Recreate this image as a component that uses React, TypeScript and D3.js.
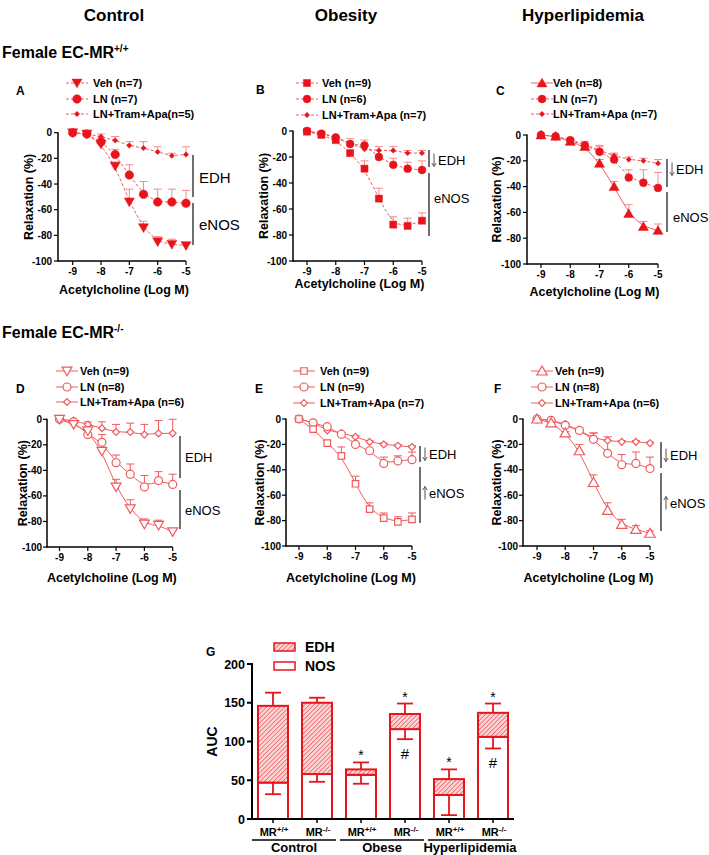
import React from 'react';
import * as d3 from 'd3';

// ---------- data ----------
const doses = [-9, -8.5, -8, -7.5, -7, -6.5, -6, -5.5, -5];
const xTicks = [-9, -8, -7, -6, -5];
const yTicks = [0, -20, -40, -60, -80, -100];

const vehA = [0, -1, -9, -26, -54, -74, -85, -87, -88];
const vehASem = [0, 0, 2, 3, 10, 5, 4, 4, 2];
const lnA = [0, -1, -7, -17, -33, -48, -54, -54, -55];
const lnASem = [0, 0, 3, 4, 8, 10, 10, 10, 10];
const lntA = [0, -1, -3, -6, -10, -12, -15, -18, -17];
const lntASem = [0, 0, 2, 3, 3, 5, 4, 2, 6];

const vehB = [-0.5, -3, -7, -17, -29, -52, -72, -73, -69];
const vehBSem = [0, 0, 0, 1, 6, 8, 6, 6, 6];
const lnB = [0, -2, -5, -10, -11, -20, -26, -29, -30];
const lnBSem = [0, 0, 0, 4, 4, 1, 5, 5, 7];
const lntB = [0, -2, -4, -10, -14, -15, -15, -17, -17];
const lntBSem = [0, 0, 0, 0, 3, 3, 3, 2, 2];

const vehC = [0, -1, -5, -9, -22, -40, -61, -71, -74];
const vehCSem = [0, 0, 1, 2, 3, 4, 7, 4, 5];
const lnC = [0, -1, -4, -8, -13, -19, -33, -37, -41];
const lnCSem = [0, 0, 1, 3, 4, 4, 6, 10, 12];
const lntC = [0, -1, -4, -7, -12, -16, -19, -20, -22];
const lntCSem = [0, 0, 1, 2, 4, 2, 2, 2, 3];

const vehD = [0, -4, -9, -25, -53, -70, -82, -83, -88];
const vehDSem = [0, 0, 1, 2, 6, 7, 4, 4, 2];
const lnD = [0, -2, -12, -18, -34, -43, -53, -48, -51];
const lnDSem = [0, 0, 1, 6, 6, 8, 9, 7, 8];
const lntD = [0, -1, -4, -7, -10, -10, -12, -11, -11];
const lntDSem = [0, 0, 2, 5, 6, 7, 8, 10, 11];

const vehE = [0, -8, -19, -29, -51, -71, -78, -81, -79];
const vehESem = [0, 0, 2, 7, 6, 5, 4, 4, 5];
const lnE = [0, -3, -6, -12, -20, -25, -35, -33, -32];
const lnESem = [0, 0, 0, 1, 1, 1, 5, 4, 6];
const lntE = [0, -3, -9, -11, -14, -18, -20, -21, -22];
const lntESem = [0, 0, 0, 0, 1, 1, 1, 1, 1];

const vehF = [0, -3, -11, -25, -50, -72, -83, -87, -90];
const vehFSem = [0, 0, 1, 5, 6, 6, 4, 3, 2];
const lnF = [0, -1, -5, -9, -16, -27, -36, -35, -39];
const lnFSem = [0, 0, 1, 1, 5, 10, 8, 9, 9];
const lntF = [0, -1, -4, -9, -15, -17, -18, -18, -19];
const lntFSem = [0, 0, 1, 2, 4, 3, 1, 1, 1];

const legendA = ['Veh (n=7)', 'LN (n=7)', 'LN+Tram+Apa(n=5)'];
const legendB = ['Veh (n=9)', 'LN (n=6)', 'LN+Tram+Apa (n=7)'];
const legendC = ['Veh (n=8)', 'LN (n=7)', 'LN+Tram+Apa (n=7)'];
const legendD = ['Veh (n=9)', 'LN (n=8)', 'LN+Tram+Apa (n=6)'];
const legendE = ['Veh (n=9)', 'LN (n=9)', 'LN+Tram+Apa (n=7)'];
const legendF = ['Veh (n=9)', 'LN (n=8)', 'LN+Tram+Apa (n=6)'];

const aucGroups = ['Control', 'Obese', 'Hyperlipidemia'];
const aucGenotypes = ['+/+', '-/-', '+/+', '-/-', '+/+', '-/-'];
const aucTotal = [146, 150, 64, 135.5, 51.5, 137];
const aucTotalSem = [17, 6.5, 9, 13.5, 12.5, 12];
const aucNOS = [47, 58, 57, 116, 31, 106];
const aucNOSSem = [15, 10, 11.5, 13, 26, 15];
const aucStar = [false, false, true, true, true, true];
const aucHash = [false, false, false, true, false, true];
const aucTicks = [0, 50, 100, 150, 200];

// ---------- styles ----------
const FONT = '"Liberation Sans", Arial, Helvetica, sans-serif';
const RED = '#e8141c';
const RED_LINE = '#f05a5e';
const RED_ERR = '#f28b8e';

type Series = { v: number[]; s: number[]; sym: string; filled: boolean; dashed: boolean; size: number };

function symPath(sym: string, size: number) {
  const map: any = {
    tri: d3.symbolTriangle,
    triDown: d3.symbolTriangle,
    circle: d3.symbolCircle,
    square: d3.symbolSquare,
    diamond: d3.symbolDiamond2,
  };
  return d3.symbol().type(map[sym]).size(size)() as string;
}

function Marker({ sym, size, filled, cx, cy, color }: any) {
  const rot = sym === 'triDown' ? 180 : 0;
  const dy = sym === 'tri' ? 1 : sym === 'triDown' ? -1 : 0;
  return (
    <path
      d={symPath(sym, size)}
      transform={`translate(${cx},${cy + dy}) rotate(${rot})`}
      fill={filled ? color : '#fff'}
      stroke={color}
      strokeWidth={filled ? 0.5 : 1.2}
    />
  );
}

function Arrow({ x, cy, dir }: any) {
  const top = cy - 6.5;
  const bot = cy + 6.5;
  const head = dir === 'down' ? `M${x - 2.2},${bot - 3.5}L${x},${bot}L${x + 2.2},${bot - 3.5}` : `M${x - 2.2},${top + 3.5}L${x},${top}L${x + 2.2},${top + 3.5}`;
  return (
    <g stroke="#555" strokeWidth={1} fill="none">
      <line x1={x} x2={x} y1={top} y2={bot} />
      <path d={head} />
    </g>
  );
}

function Panel({ p }: any) {
  const x = d3.scaleLinear().domain([-9, -5]).range([p.x9, p.x5]);
  const y = d3.scaleLinear().domain([0, -100]).range([p.y0, p.y100]);
  const line = d3
    .line<number>()
    .x((_d, i) => x(doses[i]))
    .y((d) => y(d))
    .curve(d3.curveBasis);
  const series: Series[] = p.series;
  const order = [2, 1, 0];
  const tickFont = { fontFamily: FONT, fontWeight: 700, fontSize: 10 };
  return (
    <g>
      <text x={p.labelX} y={p.labelY} fontFamily={FONT} fontWeight={700} fontSize={12}>
        {p.label}
      </text>
      {/* legend */}
      {series.map((s, i) => (
        <g key={'lg' + i}>
          <line
            x1={p.lmx - 11}
            x2={p.lmx + 11}
            y1={p.ly[i]}
            y2={p.ly[i]}
            stroke={RED_LINE}
            strokeWidth={1}
            strokeDasharray={s.dashed ? '3,2' : undefined}
          />
          <Marker sym={s.sym} size={s.size} filled={s.filled} cx={p.lmx} cy={p.ly[i]} color={s.filled ? RED : RED_LINE} />
          <text x={p.ltx} y={p.ly[i] + 4} fontFamily={FONT} fontWeight={700} fontSize={11}>
            {p.legend[i]}
          </text>
        </g>
      ))}
      {/* axes */}
      <line x1={p.ax} x2={p.ax} y1={y(0) - 0.5} y2={y(-100) + 0.75} stroke="#000" strokeWidth={1.5} />
      <line x1={p.ax} x2={x(-5)} y1={y(-100)} y2={y(-100)} stroke="#000" strokeWidth={1.5} />
      {yTicks.map((t) => (
        <g key={'yt' + t}>
          <line x1={p.ax - 4} x2={p.ax} y1={y(t)} y2={y(t)} stroke="#000" strokeWidth={1.2} />
          <text x={p.ax - p.tgap} y={y(t) + 3.5} textAnchor="end" {...tickFont}>
            {t}
          </text>
        </g>
      ))}
      {xTicks.map((t) => (
        <g key={'xt' + t}>
          <line x1={x(t)} x2={x(t)} y1={y(-100)} y2={y(-100) + 4} stroke="#000" strokeWidth={1.2} />
          <text x={x(t)} y={y(-100) + 14} textAnchor="middle" {...tickFont}>
            {t}
          </text>
        </g>
      ))}
      <text
        transform={`translate(${p.ylx},${(y(0) + y(-100)) / 2}) rotate(-90)`}
        textAnchor="middle"
        fontFamily={FONT}
        fontWeight={700}
        fontSize={12.5}
      >
        Relaxation (%)
      </text>
      <text x={(p.ax + x(-5)) / 2 + 2} y={p.xly} textAnchor="middle" fontFamily={FONT} fontWeight={700} fontSize={12.5}>
        Acetylcholine (Log M)
      </text>
      {/* error bars */}
      {order.map((si) => {
        const s = series[si];
        const col = s.filled ? RED_ERR : RED_LINE;
        return s.v.map((v, i) =>
          s.s[i] > 0.5 ? (
            <g key={'e' + si + '-' + i}>
              <line x1={x(doses[i])} x2={x(doses[i])} y1={y(v)} y2={y(v + s.s[i])} stroke={col} strokeWidth={1} />
              <line x1={x(doses[i]) - 4} x2={x(doses[i]) + 4} y1={y(v + s.s[i])} y2={y(v + s.s[i])} stroke={col} strokeWidth={1} />
            </g>
          ) : null
        );
      })}
      {/* curves */}
      {order.map((si) => {
        const s = series[si];
        return (
          <path
            key={'c' + si}
            d={line(s.v) as string}
            fill="none"
            stroke={RED_LINE}
            strokeWidth={1}
            strokeDasharray={s.dashed ? '3,2' : undefined}
          />
        );
      })}
      {/* markers */}
      {order.map((si) => {
        const s = series[si];
        return s.v.map((v, i) => (
          <Marker key={'m' + si + '-' + i} sym={s.sym} size={s.size} filled={s.filled} cx={x(doses[i])} cy={y(v)} color={s.filled ? RED : RED_LINE} />
        ));
      })}
      {/* brackets */}
      {p.brackets.map((b: any, i: number) => (
        <g key={'b' + i}>
          <line x1={b.x} x2={b.x} y1={b.y1} y2={b.y2} stroke="#222" strokeWidth={1.3} />
          {b.arrow ? <Arrow x={b.tx + 2} cy={b.ty} dir={b.arrow} /> : null}
          <text x={b.arrow ? b.tx + 6 : b.tx} y={b.ty + p.bfs * 0.36} fontFamily={FONT} fontSize={p.bfs}>
            {b.text}
          </text>
        </g>
      ))}
    </g>
  );
}

const fs = (v: number[], s: number[], sym: string, dashed: boolean, size: number): Series => ({ v, s, sym, filled: true, dashed, size });
const os = (v: number[], s: number[], sym: string, size: number): Series => ({ v, s, sym, filled: false, dashed: false, size });

const panels = [
  {
    label: 'A', labelX: 16, labelY: 95,
    ax: 58, x9: 72.7, x5: 186, y0: 132.7, y100: 261,
    lmx: 77, ltx: 93, ly: [83, 99, 114], legend: legendA,
    ylx: 33, xly: 294, bfs: 15, tgap: 6,
    series: [fs(vehA, vehASem, 'triDown', true, 44), fs(lnA, lnASem, 'circle', true, 58), fs(lntA, lntASem, 'diamond', true, 18)],
    brackets: [
      { x: 193, y1: 155, y2: 197, tx: 199, ty: 178, text: 'EDH' },
      { x: 193, y1: 203, y2: 245, tx: 199, ty: 225, text: 'eNOS' },
    ],
  },
  {
    label: 'B', labelX: 256, labelY: 94,
    ax: 293, x9: 307, x5: 422, y0: 131, y100: 261,
    lmx: 307, ltx: 322, ly: [83, 99, 115], legend: legendB,
    ylx: 268, xly: 288, bfs: 13, tgap: 6,
    series: [fs(vehB, vehBSem, 'square', true, 50), fs(lnB, lnBSem, 'circle', true, 48), fs(lntB, lntBSem, 'diamond', true, 18)],
    brackets: [
      { x: 429, y1: 150, y2: 167, tx: 432, ty: 160, text: 'EDH', arrow: 'down' },
      { x: 429, y1: 173, y2: 236, tx: 434, ty: 198, text: 'eNOS' },
    ],
  },
  {
    label: 'C', labelX: 496, labelY: 95,
    ax: 527, x9: 541, x5: 658, y0: 135, y100: 264,
    lmx: 542, ltx: 553, ly: [83, 99, 114], legend: legendC,
    ylx: 501, xly: 296, bfs: 13, tgap: 6,
    series: [
      { v: vehC, s: vehCSem, sym: 'tri', filled: true, dashed: false, size: 44 },
      fs(lnC, lnCSem, 'circle', true, 48),
      fs(lntC, lntCSem, 'diamond', true, 18),
    ],
    brackets: [
      { x: 667, y1: 159, y2: 187, tx: 670, ty: 169, text: 'EDH', arrow: 'down' },
      { x: 667, y1: 192, y2: 232, tx: 673, ty: 217, text: 'eNOS' },
    ],
  },
  {
    label: 'D', labelX: 16, labelY: 393,
    ax: 47, x9: 59.5, x5: 172.7, y0: 419.3, y100: 547,
    lmx: 67, ltx: 80, ly: [371, 387, 402], legend: legendD,
    ylx: 27, xly: 582, bfs: 13, tgap: 5,
    series: [os(vehD, vehDSem, 'triDown', 42), os(lnD, lnDSem, 'circle', 50), os(lntD, lntDSem, 'diamond', 30)],
    brackets: [
      { x: 180, y1: 436, y2: 478, tx: 185, ty: 457, text: 'EDH' },
      { x: 180, y1: 490, y2: 529, tx: 185, ty: 510, text: 'eNOS' },
    ],
  },
  {
    label: 'E', labelX: 255, labelY: 393,
    ax: 286, x9: 299, x5: 412, y0: 419, y100: 546,
    lmx: 304, ltx: 320, ly: [371, 387, 403], legend: legendE,
    ylx: 264, xly: 582, bfs: 13, tgap: 5,
    series: [os(vehE, vehESem, 'square', 42), os(lnE, lnESem, 'circle', 50), os(lntE, lntESem, 'diamond', 30)],
    brackets: [
      { x: 420, y1: 446, y2: 462, tx: 423, ty: 454, text: 'EDH', arrow: 'down' },
      { x: 420, y1: 467, y2: 523, tx: 423, ty: 493, text: 'eNOS', arrow: 'up' },
    ],
  },
  {
    label: 'F', labelX: 494, labelY: 393,
    ax: 523, x9: 537, x5: 650, y0: 419, y100: 546,
    lmx: 542, ltx: 555, ly: [371, 387, 403], legend: legendF,
    ylx: 501, xly: 582, bfs: 13, tgap: 5,
    series: [os(vehF, vehFSem, 'tri', 46), os(lnF, lnFSem, 'circle', 50), os(lntF, lntFSem, 'diamond', 30)],
    brackets: [
      { x: 661, y1: 442, y2: 468, tx: 664, ty: 455, text: 'EDH', arrow: 'down' },
      { x: 661, y1: 473, y2: 531, tx: 664, ty: 503, text: 'eNOS', arrow: 'up' },
    ],
  },
];

function AucPanel() {
  const y = d3.scaleLinear().domain([0, 200]).range([819, 664]);
  const x = d3
    .scaleBand<number>()
    .domain(d3.range(aucTotal.length))
    .range([252, 514])
    .paddingInner(0.318)
    .paddingOuter(0.136);
  const bw = x.bandwidth();
  const ax = 252;
  return (
    <g>
      <defs>
        <pattern id="hatch" width="3.2" height="3.2" patternUnits="userSpaceOnUse" patternTransform="rotate(45)">
          <rect width="3.2" height="3.2" fill="#fbd4d4" />
          <line x1="0" y1="0" x2="0" y2="3.2" stroke="#e8323a" strokeWidth="1.1" />
        </pattern>
      </defs>
      <text x={206} y={656} fontFamily={FONT} fontWeight={700} fontSize={12}>
        G
      </text>
      {/* legend */}
      <rect x={274} y={643} width={21} height={8} fill="url(#hatch)" stroke={RED} strokeWidth={1.5} />
      <text x={305} y={652} fontFamily={FONT} fontWeight={700} fontSize={14}>EDH</text>
      <rect x={274} y={662} width={21} height={8} fill="#fff" stroke={RED} strokeWidth={1.5} />
      <text x={305} y={671} fontFamily={FONT} fontWeight={700} fontSize={14}>NOS</text>
      {/* bars */}
      {aucTotal.map((tot, i) => {
        const x0 = x(i) as number;
        const cx = x0 + bw / 2;
        const nos = aucNOS[i];
        return (
          <g key={'bar' + i}>
            <line x1={cx} x2={cx} y1={y(tot)} y2={y(tot + aucTotalSem[i])} stroke={RED} strokeWidth={1.8} />
            <line x1={cx - 8} x2={cx + 8} y1={y(tot + aucTotalSem[i])} y2={y(tot + aucTotalSem[i])} stroke={RED} strokeWidth={1.8} />
            <rect x={x0} y={y(nos)} width={bw} height={y(0) - y(nos)} fill="#fff" stroke={RED} strokeWidth={2} />
            <rect x={x0} y={y(tot)} width={bw} height={y(nos) - y(tot)} fill="url(#hatch)" stroke={RED} strokeWidth={2} />
            <line x1={cx} x2={cx} y1={y(nos)} y2={y(Math.max(0, nos - aucNOSSem[i]))} stroke={RED} strokeWidth={1.8} />
            <line x1={cx - 8} x2={cx + 8} y1={y(nos - aucNOSSem[i])} y2={y(nos - aucNOSSem[i])} stroke={RED} strokeWidth={1.8} />
            {aucStar[i] ? (
              <text x={cx} y={y(tot + aucTotalSem[i]) - 2} textAnchor="middle" fontFamily={FONT} fontSize={14}>*</text>
            ) : null}
            {aucHash[i] ? (
              <text x={cx} y={y(nos - aucNOSSem[i]) + 20} textAnchor="middle" fontFamily={FONT} fontSize={15}>#</text>
            ) : null}
            <line x1={cx} x2={cx} y1={819} y2={823} stroke="#000" strokeWidth={1.5} />
            <text x={cx + 1} y={836} textAnchor="middle" fontFamily={FONT} fontWeight={700} fontSize={11}>
              MR<tspan dy={-4} fontSize={8}>{aucGenotypes[i]}</tspan>
            </text>
          </g>
        );
      })}
      {/* axes */}
      <line x1={ax} x2={ax} y1={y(200) - 1} y2={y(0) + 1} stroke="#000" strokeWidth={2} />
      <line x1={ax} x2={514} y1={y(0)} y2={y(0)} stroke="#000" strokeWidth={2} />
      {aucTicks.map((t) => (
        <g key={'gt' + t}>
          <line x1={ax - 5} x2={ax} y1={y(t)} y2={y(t)} stroke="#000" strokeWidth={2} />
          <text x={ax - 7} y={y(t) + 4.5} textAnchor="end" fontFamily={FONT} fontWeight={700} fontSize={12.5}>
            {t}
          </text>
        </g>
      ))}
      <text transform={`translate(${217},${y(100)}) rotate(-90)`} textAnchor="middle" fontFamily={FONT} fontWeight={700} fontSize={14}>
        AUC
      </text>
      {aucGroups.map((g, gi) => {
        const a = (x(gi * 2) as number) - 6;
        const b = (x(gi * 2 + 1) as number) + bw + 4;
        return (
          <g key={'grp' + gi}>
            <line x1={a} x2={b} y1={840} y2={840} stroke="#000" strokeWidth={1.5} />
            <text x={(a + b) / 2} y={852} textAnchor="middle" fontFamily={FONT} fontWeight={700} fontSize={13}>
              {g}
            </text>
          </g>
        );
      })}
    </g>
  );
}

export default function App() {
  return (
    <svg width={709} height={855} style={{ position: 'absolute', left: 0, top: 0, background: '#fff' }}>
      <rect width={709} height={855} fill="#fff" />
      <g fontFamily={FONT} fontWeight={700} fontSize={17}>
        <text x={114} y={21} textAnchor="middle">Control</text>
        <text x={346} y={21} textAnchor="middle">Obesity</text>
        <text x={583} y={21} textAnchor="middle">Hyperlipidemia</text>
      </g>
      <text x={2} y={58} fontFamily={FONT} fontWeight={700} fontSize={16}>
        Female EC-MR<tspan dy={-6} fontSize={10}>+/+</tspan>
      </text>
      <text x={2} y={338} fontFamily={FONT} fontWeight={700} fontSize={16}>
        Female EC-MR<tspan dy={-6} fontSize={10}>-/-</tspan>
      </text>
      {panels.map((p, i) => (
        <Panel key={i} p={p} />
      ))}
      <AucPanel />
    </svg>
  );
}
